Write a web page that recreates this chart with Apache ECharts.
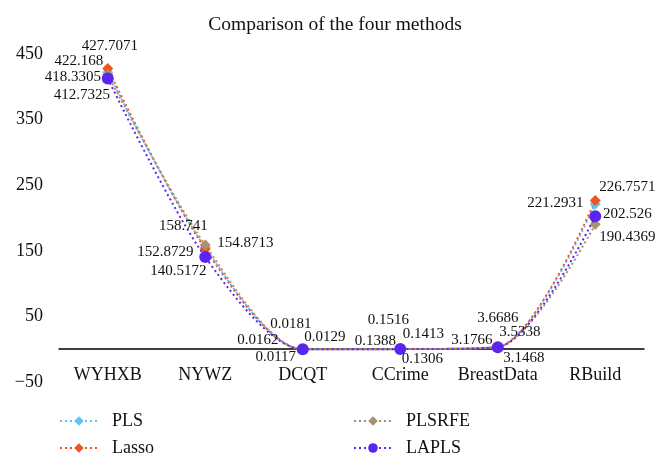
<!DOCTYPE html>
<html>
<head>
<meta charset="utf-8">
<script src="https://cdn.jsdelivr.net/npm/echarts@6/dist/echarts.min.js"></script>
<style>html,body{margin:0;padding:0;background:#fff}#c{width:670px;height:467px}</style>
</head>
<body>
<div id="c"></div>
<script>
const categories = ['WYHXB', 'NYWZ', 'DCQT', 'CCrime', 'BreastData', 'RBuild'];
const seriesNames = ['PLS', 'Lasso', 'PLSRFE', 'LAPLS'];
const plsValues    = [422.168, 154.8713, 0.0181, 0.1516, 3.6686, 221.2931];
const lassoValues  = [427.7071, 152.8729, 0.0162, 0.1388, 3.1766, 226.7571];
const plsrfeValues = [418.3305, 158.741, 0.0129, 0.1413, 3.5338, 190.4369];
const laplsValues  = [412.7325, 140.5172, 0.0117, 0.1306, 3.1468, 202.526];
const yMin = -50, yMax = 450;

// label offsets (style only): [dx, dy] from marker centre to label centre
const labelOffsets = {
  PLS:    [[-29,-11],[40,-5],[-12,-25],[-12,-29],[0,-29],[-40,-1]],
  Lasso:  [[2,-23],[-40,3],[-45,-9],[-25,-8],[-26,-7],[32,-13]],
  PLSRFE: [[-35,2],[-22,-19],[22,-12],[23,-15],[22,-15],[32,13]],
  LAPLS:  [[-26,17],[-27,14],[-27,8],[22,10],[26,11],[32,-2]]
};
const styles = {
  PLS:    {color: '#5cc6f2', symbol: 'diamond', size: 11},
  Lasso:  {color: '#ee5524', symbol: 'diamond', size: 11},
  PLSRFE: {color: '#a8916e', symbol: 'diamond', size: 11},
  LAPLS:  {color: '#5a25f0', symbol: 'circle', size: 12}
};
// legend placement (style only): [left, top]
const legendPlaces = {PLS: [59, 412], Lasso: [59, 439], PLSRFE: [353, 412], LAPLS: [353, 439]};
const valuesByName = {PLS: plsValues, Lasso: lassoValues, PLSRFE: plsrfeValues, LAPLS: laplsValues};
const FONT = 'Liberation Serif';

const series = seriesNames.map(name => {
  const st = styles[name];
  return {
    name: name,
    type: 'line',
    smooth: 0.28,
    symbol: st.symbol,
    symbolSize: st.size,
    itemStyle: {color: st.color},
    lineStyle: {color: st.color, width: 2, type: [2, 3]},
    data: valuesByName[name].map((v, i) => ({
      value: v,
      label: {offset: labelOffsets[name][i]}
    })),
    label: {
      show: true,
      position: 'inside',
      align: 'center',
      verticalAlign: 'middle',
      color: '#111',
      fontFamily: FONT,
      fontSize: 15,
      formatter: p => String(p.value)
    },
    z: name === 'LAPLS' ? 5 : 3
  };
});

const legends = seriesNames.map(name => ({
  data: [name],
  left: legendPlaces[name][0],
  top: legendPlaces[name][1],
  padding: 0,
  itemWidth: 38, itemHeight: 12,
  textStyle: {fontFamily: FONT, fontSize: 18, color: '#111', padding: [0, 0, 0, 9]}
}));

const chart = echarts.init(document.getElementById('c'));
chart.setOption({
  animation: false,
  backgroundColor: '#fff',
  title: {
    text: 'Comparison of the four methods',
    left: 'center',
    top: 10,
    textStyle: {fontFamily: FONT, fontSize: 19.5, fontWeight: 'normal', color: '#111'}
  },
  grid: {left: 59, right: 26, top: 54, bottom: 85},
  legend: legends,
  xAxis: {
    type: 'category',
    data: categories,
    boundaryGap: true,
    axisLine: {onZero: true, lineStyle: {color: '#000', width: 1.5}},
    axisTick: {show: false},
    axisLabel: {interval: 0, fontFamily: FONT, fontSize: 18, color: '#111', margin: -16}
  },
  yAxis: {
    type: 'value',
    min: yMin, max: yMax, interval: 50,
    axisLine: {show: false},
    axisTick: {show: false},
    splitLine: {show: false},
    axisLabel: {
      fontFamily: FONT, fontSize: 18, color: '#111', margin: 16,
      formatter: v => ((v - yMin) % 100 === 0 ? (v < 0 ? '\u2212' + Math.abs(v) : String(v)) : '')
    }
  },
  series: series
});
</script>
</body>
</html>
